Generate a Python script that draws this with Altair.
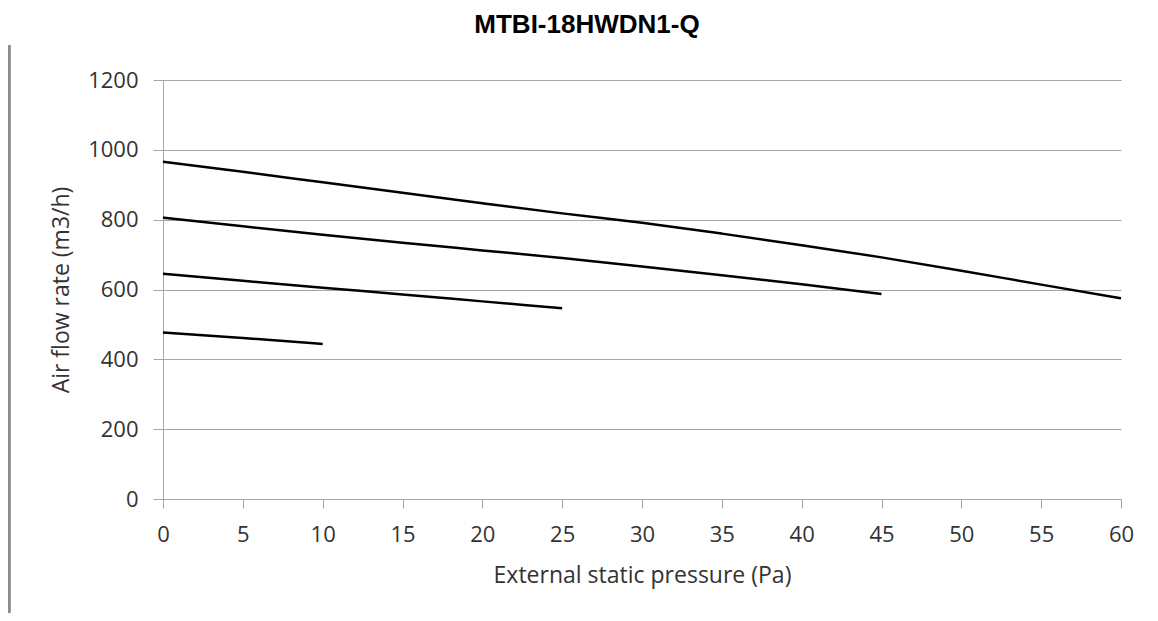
import altair as alt
import pandas as pd

title_text = "MTBI-18HWDN1-Q"
x_title = "External static pressure (Pa)"
y_title = "Air flow rate (m3/h)"
x_ticks = list(range(0, 61, 5))
y_ticks = list(range(0, 1201, 200))

pressure_hi = [0, 5, 10, 15, 20, 25, 30, 35, 40, 45, 50, 55, 60]
airflow_hi = [966, 937, 907, 877, 847, 818, 791, 760, 727, 692, 654, 614, 575]
pressure_mh = [0, 5, 10, 15, 20, 25, 30, 35, 40, 45]
airflow_mh = [806, 781, 757, 734, 712, 690, 666, 641, 615, 587]
pressure_ml = [0, 5, 10, 15, 20, 25]
airflow_ml = [645, 625, 605, 586, 566, 546]
pressure_lo = [0, 5, 10]
airflow_lo = [477, 461, 444]

rows = []
for name, ps, vs in [("hi", pressure_hi, airflow_hi), ("mh", pressure_mh, airflow_mh),
                     ("ml", pressure_ml, airflow_ml), ("lo", pressure_lo, airflow_lo)]:
    for p, v in zip(ps, vs):
        rows.append({"series": name, "pressure": p, "airflow": v})
df = pd.DataFrame(rows)

FONT = "Open Sans"
GRID = "#a6a6a6"
TXT = "#333333"

lines = alt.Chart(df).mark_line(color="black", strokeWidth=2.5, interpolate="monotone").encode(
    x=alt.X("pressure:Q",
            scale=alt.Scale(domain=[0, 60], nice=False, zero=False),
            axis=alt.Axis(values=x_ticks, title=x_title, grid=False, tickSize=9, format="d",
                          labelPadding=16, titlePadding=19, labelFontSize=22, titleFontSize=23,
                          labelFont=FONT, titleFont=FONT, labelColor=TXT, titleColor=TXT,
                          titleFontWeight="normal", domainColor=GRID, tickColor=GRID,
                          labelFlush=False)),
    y=alt.Y("airflow:Q",
            scale=alt.Scale(domain=[0, 1200], nice=False),
            axis=alt.Axis(values=y_ticks, title=y_title, grid=True, gridColor=GRID, tickSize=10,
                          format="d",
                          labelPadding=15, titlePadding=14, labelFontSize=22, titleFontSize=23,
                          labelFont=FONT, titleFont=FONT, labelColor=TXT, titleColor=TXT,
                          titleFontWeight="normal", domainColor=GRID, tickColor=GRID)),
    detail="series:N",
)

border = alt.Chart(pd.DataFrame({"a": [0]})).mark_rule(color="#8a8a8a", strokeWidth=3).encode(
    x=alt.value(-153.7), y=alt.value(-35), y2=alt.value(541)
)

chart = alt.layer(lines, border).properties(
    width=958, height=419,
    title=alt.TitleParams(text=title_text, font="Liberation Sans", fontSize=26, fontWeight="bold",
                          color="black", anchor="middle", dx=-55, dy=-2),
    autosize=alt.AutoSizeParams(type="none"),
    padding={"left": 155, "top": 72, "right": 25, "bottom": 114},
).configure_view(strokeWidth=0)

chart.save("out.html", embed_options={"renderer": "svg", "actions": False})
